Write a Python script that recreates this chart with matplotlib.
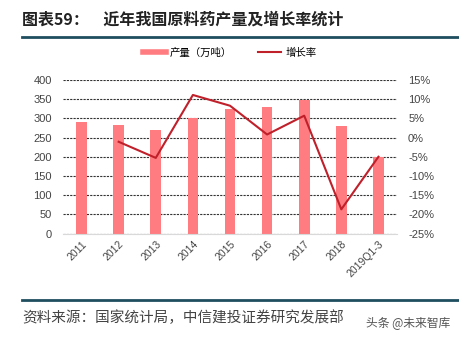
import matplotlib
matplotlib.use("Agg")
import matplotlib.pyplot as plt
from matplotlib.lines import Line2D
from matplotlib.ticker import FuncFormatter

plt.rcParams['font.family'] = ['Noto Sans CJK SC', 'DejaVu Sans']

years = ['2011', '2012', '2013', '2014', '2015', '2016', '2017', '2018', '2019Q1-3']
output_wt = [290, 284, 270, 300, 325, 330, 348, 281, 200]          # 产量（万吨）
growth_pct = [None, -1.1, -5.3, 11.1, 8.3, 0.8, 5.7, -18.7, -5.0]   # 增长率 (%)

bar_color = '#FF7C80'
line_color = '#C0202A'
rule_color = '#1F4E5F'
num_font = 'Liberation Sans'

W, H = 459, 341
fig = plt.figure(figsize=(W / 100, H / 100), dpi=100)

# title and rules
fig.text(22 / W, 1 - 20 / H, '图表59：    近年我国原料药产量及增长率统计',
         fontsize=11.5, fontweight='bold', color='#222222', va='center', ha='left')
fig.add_artist(Line2D([22 / W, 1.0], [1 - 37 / H] * 2, color=rule_color, lw=2))
fig.add_artist(Line2D([22 / W, 1.0], [1 - 300 / H] * 2, color=rule_color, lw=2))
fig.text(22 / W, 1 - 318 / H, '资料来源：国家统计局，中信建投证券研究发展部',
         fontsize=10.5, color='#444444', va='center', ha='left', style='italic')
fig.text(366 / W, 1 - 324 / H, '头条 @未来智库', fontsize=8.5, color='#555555',
         va='center', ha='left')

left, right, top, bottom = 63, 397, 80, 233.5
ax = fig.add_axes([left / W, 1 - bottom / H, (right - left) / W, (bottom - top) / H])
x = list(range(len(years)))
ax.bar(x, output_wt, width=0.29, color=bar_color, zorder=3)
ax.set_ylim(0, 400)
ax.set_yticks(range(0, 401, 50))
ax.set_xlim(-0.5, len(years) - 0.5)
ax.set_xticks(x)
ax.set_xticklabels(years, rotation=45, ha='right', rotation_mode='anchor',
                   fontsize=7.5, color='#444444', family=num_font)
ax.tick_params(axis='y', labelsize=8, labelcolor='#444444', length=0, pad=8,
               labelfontfamily=num_font)
ax.tick_params(axis='x', length=0, pad=4)
ax.grid(axis='y', color='#333333', linestyle=(0, (2, 1)), lw=0.8, zorder=0)
for s in ['top', 'right', 'left']:
    ax.spines[s].set_visible(False)
ax.spines['bottom'].set_color('#D9D9D9')
ax.spines['bottom'].set_zorder(4)

ax2 = ax.twinx()
gx = [i for i, g in zip(x, growth_pct) if g is not None]
gy = [g for g in growth_pct if g is not None]
ax2.plot(gx, gy, color=line_color, lw=1.5, zorder=5)
ax2.set_ylim(-25, 15)
ax2.set_yticks(range(-25, 16, 5))
ax2.yaxis.set_major_formatter(FuncFormatter(lambda v, p: f'{int(v)}%'))
ax2.tick_params(axis='y', labelsize=8, labelcolor='#444444', length=0, pad=8,
                labelfontfamily=num_font)
for s in ['top', 'right', 'left', 'bottom']:
    ax2.spines[s].set_visible(False)

handles = [Line2D([], [], color=bar_color, lw=4),
           Line2D([], [], color=line_color, lw=1.5)]
fig.legend(handles, ['产量（万吨）', '增长率'], loc='center',
           bbox_to_anchor=(0.5, 1 - 53 / H), ncol=2, frameon=False,
           fontsize=7.5, handlelength=2.2, columnspacing=2.5, handletextpad=0.4)

fig.savefig('out.png', dpi=100, facecolor='white')
